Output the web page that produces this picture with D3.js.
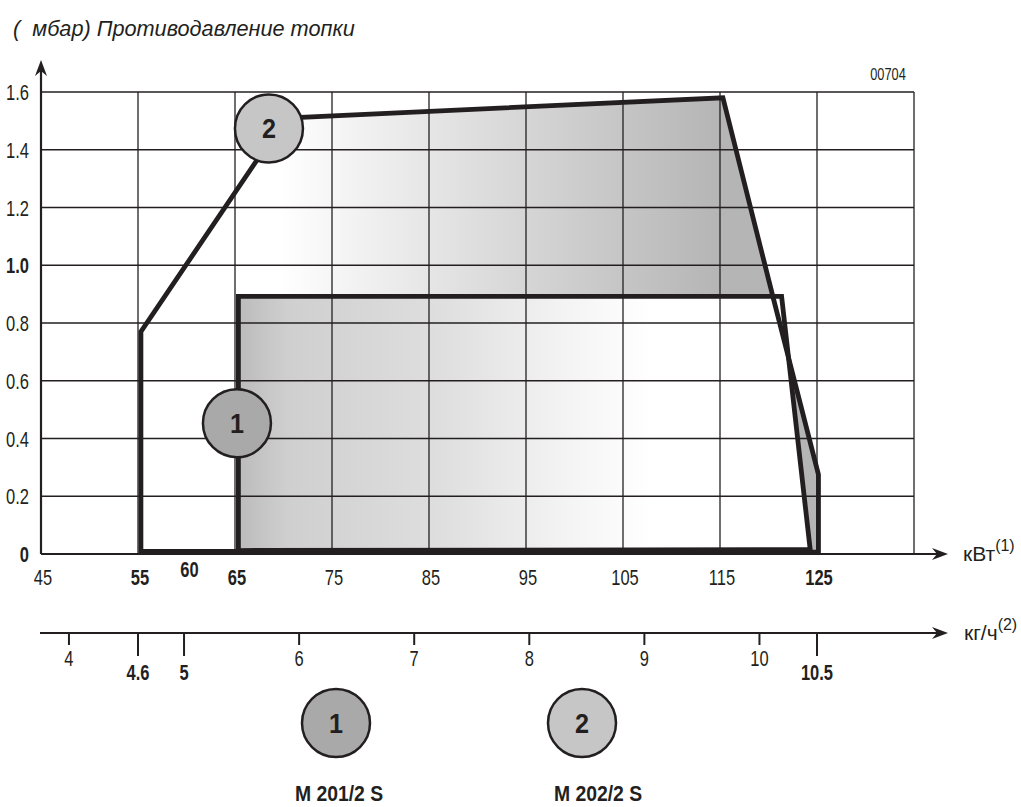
<!DOCTYPE html>
<html>
<head>
<meta charset="utf-8">
<script src="https://cdn.jsdelivr.net/npm/d3@7"></script>
<style>
  body { margin: 0; background: #fff; }
  svg text { font-family: "Liberation Sans", Arial, sans-serif; fill: #231f20; }
</style>
</head>
<body>
<svg id="chart" width="1021" height="807"></svg>
<script>
// kW scale values (top axis) and pressure values
const kwGrid = [45, 55, 65, 75, 85, 95, 105, 115, 125, 135];
const kwTicks = [45, 55, 60, 65, 75, 85, 95, 105, 115, 125];
const kwBold = [55, 60, 65, 125];
const mbarTicks = [0, 0.2, 0.4, 0.6, 0.8, 1.0, 1.2, 1.4, 1.6];
const mbarBold = [0, 1.0];
const kghTicks = [4, 4.6, 5, 6, 7, 8, 9, 10, 10.5];
const kghBold = [4.6, 5, 10.5];

// working fields [kW, mbar]
const field1 = [[65.35, 0.012], [65.35, 0.892], [121.35, 0.892], [124.3, 0.015]];
const field2 = [[55.3, 0.01], [55.3, 0.77], [70.2, 1.51], [115.3, 1.58], [120.5, 0.885], [125.15, 0.275], [125.15, 0.006]];
const badges = [{ id: "1", kw: 65.2, mbar: 0.453 }, { id: "2", kw: 68.5, mbar: 1.474 }];
const models = [{ id: "1", name: "M 201/2 S" }, { id: "2", name: "M 202/2 S" }];

const ink = "#231f20";
const badgeFill = { "1": "#a9a9a9", "2": "#c6c6c6" };
const narrow = 0.75; // the drawing uses a condensed face
const tickSize = 22;

const svg = d3.select("#chart");
const x = d3.scaleLinear().domain([45, 135]).range([41, 914]);
const y = d3.scaleLinear().domain([0, 1.6]).range([554, 92]);
const kg = d3.scaleLinear().domain([4.6, 10.5]).range([x(55), x(125)]);

const at = (px, py, s = narrow) => `translate(${px},${py}) scale(${s},1)`;

const defs = svg.append("defs");
const g2 = defs.append("linearGradient").attr("id", "grad2")
    .attr("gradientUnits", "userSpaceOnUse")
    .attr("x1", x(69.5)).attr("x2", x(115)).attr("y1", 0).attr("y2", 0);
g2.append("stop").attr("offset", 0).attr("stop-color", "#ffffff");
g2.append("stop").attr("offset", 1).attr("stop-color", "#b5b5b5");

const g1 = defs.append("linearGradient").attr("id", "grad1")
    .attr("gradientUnits", "userSpaceOnUse")
    .attr("x1", x(65.3)).attr("x2", x(108)).attr("y1", 0).attr("y2", 0);
[[0, "#bbbbbb"], [0.12, "#cfcfcf"], [0.5, "#dfdfdf"], [0.8, "#f4f4f4"], [1, "#ffffff"]]
    .forEach(s => g1.append("stop").attr("offset", s[0]).attr("stop-color", s[1]));

const line = d3.line().x(d => x(d[0])).y(d => y(d[1]));

// fills under the grid
svg.append("path").attr("d", line(field2) + "Z").attr("fill", "url(#grad2)");
svg.append("path").attr("d", line(field1) + "Z").attr("fill", "url(#grad1)");

// grid
const grid = svg.append("g").attr("stroke", ink).attr("stroke-width", 1.3);
grid.selectAll(".v").data(kwGrid).join("line")
    .attr("x1", d => x(d)).attr("x2", d => x(d))
    .attr("y1", y(1.6)).attr("y2", y(0));
grid.selectAll(".h").data(mbarTicks).join("line")
    .attr("x1", x(45)).attr("x2", x(135))
    .attr("y1", d => y(d)).attr("y2", d => y(d));

// field outlines
svg.append("path").attr("d", line(field2) + "Z")
    .attr("fill", "none").attr("stroke", ink).attr("stroke-width", 4.8).attr("stroke-linejoin", "miter");
svg.append("path").attr("d", line(field1) + "Z")
    .attr("fill", "none").attr("stroke", ink).attr("stroke-width", 4.8).attr("stroke-linejoin", "miter");

// arrow head, pointing along angle (deg)
function arrow(px, py, angle) {
  svg.append("path")
      .attr("d", "M0,0 L-16,-6 L-11,0 L-16,6 Z")
      .attr("fill", ink)
      .attr("transform", `translate(${px},${py}) rotate(${angle})`);
}

// axes
svg.append("line").attr("x1", x(45)).attr("x2", x(45)).attr("y1", y(0)).attr("y2", 66)
    .attr("stroke", ink).attr("stroke-width", 2.2);
arrow(x(45), 60, -90);
svg.append("line").attr("x1", x(45)).attr("x2", 942).attr("y1", y(0)).attr("y2", y(0))
    .attr("stroke", ink).attr("stroke-width", 2.2);
arrow(948, y(0), 0);

const kgY = 633;
svg.append("line").attr("x1", 40).attr("x2", 942).attr("y1", kgY).attr("y2", kgY)
    .attr("stroke", ink).attr("stroke-width", 2);
arrow(948, kgY, 0);

// y labels
svg.append("g").selectAll("text").data(mbarTicks).join("text")
    .attr("transform", d => at(29, y(d) + 8))
    .attr("text-anchor", "end")
    .attr("font-size", tickSize)
    .attr("font-weight", d => mbarBold.includes(d) ? "bold" : "normal")
    .text(d => d === 0 ? "0" : d.toFixed(1));

// kW labels
svg.append("g").selectAll("text").data(kwTicks).join("text")
    .attr("transform", d => at(x(d) + (d === 60 ? 3 : 2), d === 60 ? 577 : 585))
    .attr("text-anchor", "middle")
    .attr("font-size", tickSize)
    .attr("font-weight", d => kwBold.includes(d) ? "bold" : "normal")
    .text(d => d);

// kg/h ticks and labels
const kgAxis = svg.append("g");
kgAxis.selectAll("line").data(kghTicks).join("line")
    .attr("x1", d => kg(d)).attr("x2", d => kg(d))
    .attr("y1", kgY).attr("y2", d => kghBold.includes(d) ? kgY + 23 : kgY + 12)
    .attr("stroke", ink).attr("stroke-width", 2);
kgAxis.selectAll("text").data(kghTicks).join("text")
    .attr("transform", d => at(kg(d), kghBold.includes(d) ? 680 : 666))
    .attr("text-anchor", "middle")
    .attr("font-size", tickSize)
    .attr("font-weight", d => kghBold.includes(d) ? "bold" : "normal")
    .text(d => d);

// unit labels
const kw = svg.append("text").attr("x", 963).attr("y", 561).attr("font-size", 21);
kw.append("tspan").text("кВт");
kw.append("tspan").attr("font-size", 16).attr("dy", -10).text("(1)");
const kgl = svg.append("text").attr("x", 964).attr("y", 640).attr("font-size", 21);
kgl.append("tspan").text("кг/ч");
kgl.append("tspan").attr("font-size", 16).attr("dy", -10).text("(2)");

svg.append("text").attr("x", 13).attr("y", 36)
    .attr("font-size", 21.7).attr("font-style", "italic")
    .attr("xml:space", "preserve").style("white-space", "pre")
    .text("(  мбар) Противодавление топки");

svg.append("text").attr("transform", at(888, 80, 0.8)).attr("text-anchor", "middle")
    .attr("font-size", 16).text("00704");

// numbered badges
function badge(cx, cy, id) {
  const b = svg.append("g").attr("transform", `translate(${cx},${cy})`);
  b.append("circle").attr("r", 34).attr("fill", badgeFill[id]).attr("stroke", ink).attr("stroke-width", 2.5);
  b.append("text").attr("text-anchor", "middle").attr("transform", "translate(0,10) scale(0.9,1)")
      .attr("font-size", 28).attr("font-weight", "bold").text(id);
}
badges.forEach(d => badge(x(d.kw), y(d.mbar), d.id));

// legend
const legendX = [336, 582];
const labelX = [339, 598];
models.forEach((m, i) => {
  badge(legendX[i], 723, m.id);
  svg.append("text").attr("transform", at(labelX[i], 801, 0.88)).attr("text-anchor", "middle")
      .attr("font-size", 22).attr("font-weight", "bold").text(m.name);
});
</script>
</body>
</html>
